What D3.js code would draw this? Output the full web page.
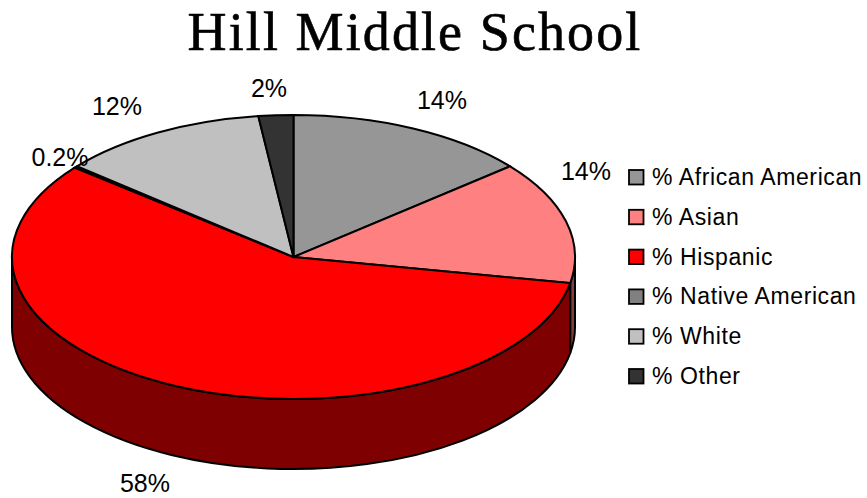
<!DOCTYPE html>
<html>
<head>
<meta charset="utf-8">
<script src="https://cdnjs.cloudflare.com/ajax/libs/d3/7.8.5/d3.min.js"></script>
<style>
  html, body { margin: 0; padding: 0; background: #fff; }
  svg { display: block; }
  text { fill: #000; }
</style>
</head>
<body>
<div id="chart"></div>
<script>
const title = "Hill Middle School";
const categories = ["% African American", "% Asian", "% Hispanic", "% Native American", "% White", "% Other"];
const values = [14, 14, 58, 0.2, 12, 2];
const valueLabels = ["14%", "14%", "58%", "0.2%", "12%", "2%"];
const topColors = ["#969696", "#ff8080", "#ff0000", "#808080", "#c0c0c0", "#333333"];
const sideColors = ["#4b4b4b", "#804040", "#7f0000", "#404040", "#606060", "#1a1a1a"];

const width = 867, height = 498;
const cx = 293.5, cy = 257, rx = 281.5, ry = 142, depth = 70;
const yScale = ry / rx;
const outline = 2;

const svg = d3.select("#chart").append("svg")
  .attr("width", width).attr("height", height);

svg.append("text")
  .attr("x", 415).attr("y", 50)
  .attr("text-anchor", "middle")
  .attr("font-family", "Liberation Serif")
  .attr("font-size", 54)
  .attr("letter-spacing", 2.1)
  .attr("stroke", "#000").attr("stroke-width", 0.6)
  .text(title);

const slices = d3.pie().sort(null).value(d => d)(values);

// Point on the rim of the ellipse; angle is clockwise from 12 o'clock.
const rimPoint = (a, dy = 0) => [cx + rx * Math.sin(a), cy - ry * Math.cos(a) + dy];

// The wall shows only along the front half, where the rim runs below the centre line.
function wallPath(s) {
  const a0 = Math.max(s.startAngle, Math.PI / 2);
  const a1 = Math.min(s.endAngle, Math.PI * 3 / 2);
  if (a1 <= a0) return null;
  const p0 = rimPoint(a0), p1 = rimPoint(a1);
  const q1 = rimPoint(a1, depth), q0 = rimPoint(a0, depth);
  return `M${p0}A${rx},${ry} 0 0 1 ${p1}L${q1}A${rx},${ry} 0 0 0 ${q0}Z`;
}

const walls = svg.append("g").attr("stroke", "#000").attr("stroke-width", outline);
slices.forEach((s, i) => {
  const d = wallPath(s);
  if (d) walls.append("path").attr("d", d).attr("fill", sideColors[i]);
});

const arc = d3.arc().innerRadius(0).outerRadius(rx);
svg.append("g")
  .attr("transform", `translate(${cx},${cy}) scale(1,${yScale})`)
  .selectAll("path").data(slices).join("path")
  .attr("d", arc)
  .attr("fill", (d, i) => topColors[i])
  .attr("stroke", "#000")
  .attr("stroke-width", outline)
  .attr("vector-effect", "non-scaling-stroke");

// Value labels sit around the pie at hand-tuned spots.
const labelSpots = [[442, 109], [586, 180], [145, 492], [60, 166], [117, 115], [269, 97]];
svg.append("g")
  .attr("font-family", "Liberation Sans").attr("font-size", 25)
  .attr("text-anchor", "middle")
  .selectAll("text").data(valueLabels).join("text")
  .attr("x", (d, i) => labelSpots[i][0])
  .attr("y", (d, i) => labelSpots[i][1])
  .text(d => d);

const legendY = d3.scalePoint().domain(categories).range([177, 376]);
const legend = svg.append("g").selectAll("g").data(categories).join("g")
  .attr("transform", d => `translate(629,${legendY(d)})`);
legend.append("rect")
  .attr("x", 0).attr("y", -7).attr("width", 14.5).attr("height", 14.5)
  .attr("fill", (d, i) => topColors[i])
  .attr("stroke", "#000").attr("stroke-width", 1.8);
legend.append("text")
  .attr("x", 23).attr("y", 8)
  .attr("font-family", "Liberation Sans").attr("font-size", 23)
  .attr("letter-spacing", 0.6)
  .text(d => d);
</script>
</body>
</html>
